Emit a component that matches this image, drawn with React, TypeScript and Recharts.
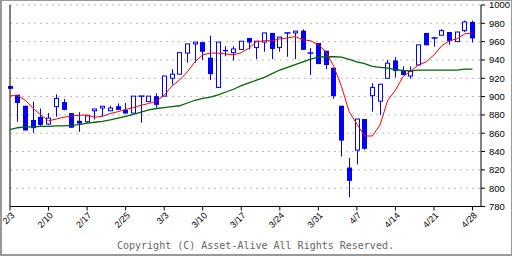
import { ComposedChart, Bar, Line, XAxis, YAxis, CartesianGrid, ReferenceLine } from "recharts";

// daily candles, one per trading day, ticks every 5 sessions
const opens = [
  911.5, 902, 890, 874.5, 878, 870, 889, 894, 882, 873.5,
  872.5, 884.5, 887.5, 884.5, 889.5, 885.5, 882, 900.5, 894.5, 900.5,
  900.5, 920, 924.5, 947.5, 957.5, 959.5, 942.5, 910, 951, 948,
  951.5, 964, 953.5, 959.5, 969.5, 953.5, 969.5, 969.5, 972, 947.5,
  958.5, 950, 931.5, 890, 822.5, 841.5, 875.5, 901, 895, 920,
  939.5, 928.5, 922.5, 934.5, 969.5, 964, 967, 970.5, 960, 972,
  981.5,
];
const highs = [
  911.5, 902, 890, 894.5, 887, 882, 902.5, 897.5, 882, 883,
  879, 886.5, 889.5, 890, 892.5, 893, 900.5, 900.5, 900.5, 903.5,
  922.5, 930, 948, 957.5, 959.5, 959.5, 966.5, 959.5, 955, 955,
  960.5, 964, 960.5, 969.5, 969.5, 965, 969.5, 971.5, 973.5, 953,
  958.5, 950, 931.5, 890, 833, 875.5, 875.5, 914.5, 913.5, 940,
  943, 933, 933, 956.5, 969.5, 965, 973.5, 970.5, 970.5, 983,
  983,
];
const lows = [
  908.5, 872.5, 863, 860.5, 868, 869, 878, 885, 866, 861.5,
  871, 875, 878.5, 884.5, 885.5, 881.5, 882, 871.5, 894.5, 888,
  900.5, 913, 924.5, 937, 937, 940, 918, 910, 944, 939.5,
  951.5, 951.5, 941, 949, 941, 949, 943.5, 941, 951, 923.5,
  935.5, 930, 897.5, 834.5, 790, 826, 842, 883.5, 880, 920,
  921, 923.5, 919.5, 934.5, 956, 954.5, 967, 956.5, 960, 970.5,
  959,
];
const closes = [
  908.5, 893, 863, 865.5, 869, 876.5, 898, 885.5, 866, 870.5,
  879, 886.5, 889.5, 887.5, 885.5, 881.5, 900.5, 900.5, 900.5, 891,
  922.5, 924.5, 948, 957.5, 959.5, 949, 924.5, 959.5, 949.5, 952,
  960.5, 959, 960.5, 969.5, 952, 965, 969.5, 971.5, 951, 947.5,
  935.5, 934.5, 900.5, 852, 808, 875.5, 843, 910, 913.5, 936.5,
  928, 923.5, 927.5, 956.5, 956, 964, 972, 960.5, 970.5, 981.5,
  963.5,
];
const maShort = [
  901, 901, 896, 887, 880, 873.5, 875.5, 877.5, 879, 879.5,
  880, 877.5, 878.5, 881.5, 883.5, 886, 888, 890.5, 892.5, 895,
  901.5, 911.5, 918, 927, 938, 945.5, 947.5, 947.5, 946.5, 945.5,
  948, 953, 960, 961, 961, 963, 964, 965.5, 962, 961,
  956.5, 949, 933, 911, 883.5, 870, 857, 857, 869, 896,
  907, 922, 928, 934.5, 938, 945.5, 955.5, 961, 963, 968.5,
  969.5,
];
const maLong = [
  864, 866, 867, 867, 867.5, 867.5, 868, 868, 868.5, 869.5,
  871, 872, 873, 874.5, 876.5, 878.5, 880.5, 883, 885.5, 887,
  888, 889, 890, 893, 896, 898, 899.5, 902, 905, 908,
  912, 915, 918, 921, 925, 929, 932, 935, 938, 941,
  943, 943.5, 943.5, 943, 940.5, 938, 936, 933, 932, 931,
  929.5, 928.5, 928, 929, 929, 929, 929, 929, 929, 930,
  930,
];
const tickIdx = [0, 5, 10, 15, 20, 25, 30, 35, 40, 45, 50, 55, 60];
const tickLabels = ["2/3", "2/10", "2/17", "2/25", "3/3", "3/10", "3/17", "3/24", "3/31", "4/7", "4/14", "4/21", "4/28"];
const yTicks = [780, 800, 820, 840, 860, 880, 900, 920, 940, 960, 980, 1000];

const data = opens.map((o, i) => ({
  i,
  o,
  h: highs[i],
  l: lows[i],
  c: closes[i],
  range: [lows[i], highs[i]],
  ma5: maShort[i],
  ma25: maLong[i],
}));

const BLUE = "#0000ff";

function Candle(props: any) {
  const { x, y, width, height, payload } = props;
  if (x == null || y == null) return null;
  const { o, h, l, c } = payload;
  const top = Math.min(y, y + height);
  const bot = Math.max(y, y + height);
  const px = (v: number) => (h === l ? top : top + ((h - v) / (h - l)) * (bot - top));
  const cx = Math.round(x + width / 2) + 0.5;
  const bt = px(Math.max(o, c));
  const bb = px(Math.min(o, c));
  const up = c > o;
  return (
    <g>
      <line x1={cx} x2={cx} y1={top} y2={bot} stroke={BLUE} strokeWidth={1} />
      {o === c ? (
        <line x1={cx - 3} x2={cx + 3} y1={bt} y2={bt} stroke={BLUE} strokeWidth={1.5} />
      ) : up ? (
        <rect x={cx - 2} y={bt} width={4} height={Math.max(bb - bt, 1)} fill="#fff" stroke={BLUE} strokeWidth={1} />
      ) : (
        <rect x={cx - 2.5} y={bt} width={5} height={Math.max(bb - bt, 1)} fill={BLUE} />
      )}
    </g>
  );
}

function DateTick(props: any) {
  const { x, payload } = props;
  const k = tickIdx.indexOf(payload.value);
  const tx = x + 5;
  const ty = 216;
  return (
    <text
      x={tx}
      y={ty}
      transform={`rotate(-45, ${tx}, ${ty})`}
      textAnchor="end"
      fontSize={9}
      fontFamily="Liberation Sans, Arial, sans-serif"
      fill="#000"
    >
      {k >= 0 ? tickLabels[k] : ""}
    </text>
  );
}

export default function App() {
  return (
    <div
      style={{
        position: "absolute",
        left: 0,
        top: 0,
        width: 512,
        height: 256,
        boxSizing: "border-box",
        borderTop: "1px solid #999",
        borderLeft: "2px solid #999",
        borderBottom: "2px solid #999",
        borderRight: "1px solid #999",
        background: "#fff",
      }}
    >
      <div style={{ position: "absolute", left: -2, top: -1 }}>
        <ComposedChart width={512} height={256} data={data} margin={{ top: 5, right: 0, bottom: 0, left: 10 }}>
          <CartesianGrid vertical={false} stroke="#bbb" strokeDasharray="2 4" />
          <XAxis
            dataKey="i"
            type="number"
            domain={[0, 61.1]}
            ticks={tickIdx}
            interval={0}
            height={49.5}
            tickSize={4}
            stroke="#000"
            tick={<DateTick />}
          />
          <YAxis
            orientation="right"
            domain={[780, 1000]}
            ticks={yTicks}
            interval={0}
            width={31}
            tickSize={4}
            tickMargin={4}
            stroke="#000"
            tick={{ fontSize: 9.5, fill: "#000", fontFamily: "Liberation Sans, Arial, sans-serif", textAnchor: "start" }}
          />
          <ReferenceLine x={0} stroke="#000" />
          <Bar dataKey="range" barSize={5} shape={<Candle />} isAnimationActive={false} />
          <Line type="linear" dataKey="ma25" stroke="#006600" strokeWidth={1.3} dot={false} isAnimationActive={false} />
          <Line type="linear" dataKey="ma5" stroke="#ff0000" strokeWidth={1} dot={false} isAnimationActive={false} />
        </ComposedChart>
      </div>
      <div
        style={{
          position: "absolute",
          left: 115,
          top: 239,
          fontFamily: "DejaVu Sans Mono, monospace",
          fontSize: 10,
          color: "#666",
          whiteSpace: "nowrap",
        }}
      >
        Copyright (C) Asset-Alive All Rights Reserved.
      </div>
    </div>
  );
}
